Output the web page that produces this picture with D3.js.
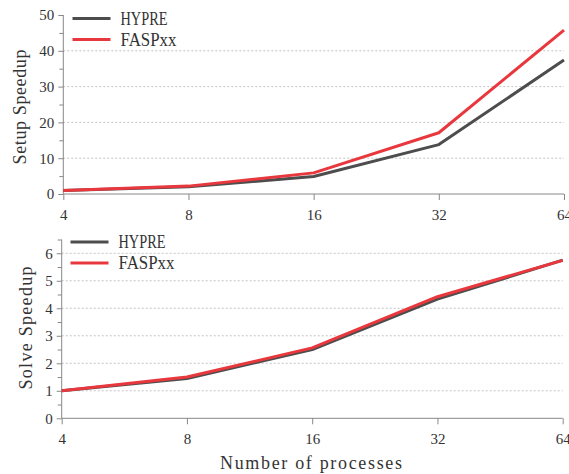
<!DOCTYPE html>
<html><head><meta charset="utf-8">
<script src="https://cdn.jsdelivr.net/npm/d3@7"></script>
<style>
html,body{margin:0;padding:0;background:#fff;}
svg{display:block;}
text{font-family:"Liberation Serif","DejaVu Serif",serif;fill:#333;}
</style></head><body>
<svg id="c" width="569" height="474"></svg>
<script>
const processes = [4, 8, 16, 32, 64];
const setupHypre = [1, 2.0, 4.9, 13.8, 37.4];
const setupFasp = [1, 2.2, 5.9, 17.1, 45.8];
const solveHypre = [1, 1.45, 2.5, 4.33, 5.75];
const solveFasp = [1, 1.5, 2.56, 4.42, 5.74];
const seriesNames = ["HYPRE", "FASPxx"];
const seriesColors = ["#4d4d4d", "#e8383d"];
const setupTicks = [0, 10, 20, 30, 40, 50];
const solveTicks = [0, 1, 2, 3, 4, 5, 6];

const svg = d3.select("#c");

function panel(opts) {
  const g = svg.append("g");
  const x = d3.scaleLog().base(2).domain([4, 64]).range([opts.x0, opts.x1]);
  const y = d3.scaleLinear().domain([0, opts.ymax]).range([opts.y0, opts.y1]);

  // gridlines
  g.append("g").selectAll("line").data(opts.grid).join("line")
    .attr("x1", opts.x0).attr("x2", opts.x1)
    .attr("y1", d => y(d)).attr("y2", d => y(d))
    .attr("stroke", "#c4c4c4").attr("stroke-width", 1)
    .attr("stroke-dasharray", "2,2");

  // y axis with minor ticks
  const ya = g.append("g").attr("transform", `translate(${opts.x0},0)`)
    .call(d3.axisLeft(y).tickValues(opts.minor).tickSize(4).tickFormat(""));
  ya.select(".domain").remove();
  ya.selectAll("line").attr("stroke", "#888");
  const yb = g.append("g").attr("transform", `translate(${opts.x0},0)`)
    .call(d3.axisLeft(y).tickValues(opts.ticks).tickSize(5).tickPadding(4).tickFormat(d3.format("d")));
  yb.select(".domain").attr("stroke", "#888").attr("d", `M0,${opts.y0}V${opts.y1}`);
  yb.selectAll("line").attr("stroke", "#888");
  yb.selectAll("text").style("font-family", '"Liberation Serif",serif').style("font-size", "15px").attr("fill", "#333");

  // x axis
  const xa = g.append("g").attr("transform", `translate(0,${opts.y0})`)
    .call(d3.axisBottom(x).tickValues(processes).tickSize(6).tickPadding(9).tickFormat(d3.format("d")));
  xa.select(".domain").attr("stroke", "#888").attr("d", `M${opts.x0},0H${opts.x1}`);
  xa.selectAll("line").attr("stroke", "#888");
  xa.selectAll("text").style("font-family", '"Liberation Serif",serif').style("font-size", "15px").attr("fill", "#333");

  // lines
  const line = d3.line().x((d, i) => x(processes[i])).y(d => y(d));
  opts.data.forEach((arr, k) => {
    g.append("path").datum(arr).attr("d", line)
      .attr("fill", "none").attr("stroke", seriesColors[k])
      .attr("stroke-width", 3).attr("stroke-linejoin", "round");
  });

  // legend
  seriesNames.forEach((n, k) => {
    const ly = opts.legY + k * 21;
    g.append("line").attr("x1", opts.legX).attr("x2", opts.legX + 38)
      .attr("y1", ly).attr("y2", ly)
      .attr("stroke", seriesColors[k]).attr("stroke-width", 3);
    g.append("text").attr("x", opts.legX + 48).attr("y", ly + 6)
      .style("font-size", "18px")
      .attr("textLength", k === 0 ? 47 : 56).attr("lengthAdjust", "spacingAndGlyphs")
      .text(n);
  });

  // y title
  g.append("text").attr("transform", `translate(${opts.tx},${opts.ty}) rotate(-90)`)
    .attr("text-anchor", "middle").style("font-size", "18px")
    .attr("textLength", opts.tlen).attr("lengthAdjust", "spacing")
    .text(opts.title);
  return {x, y};
}

const minorSetup = d3.range(5, 50, 10);
panel({x0: 63.3, x1: 564, y0: 194, y1: 15, ymax: 50,
  ticks: setupTicks, minor: minorSetup, grid: [10, 20, 30, 40],
  data: [setupHypre, setupFasp], legX: 72.5, legY: 18.5,
  title: "Setup Speedup", tx: 26, ty: 107, tlen: 115});

const minorSolve = d3.range(0.5, 6.6, 1);
panel({x0: 61.7, x1: 562.7, y0: 418.3, y1: 239.5, ymax: 6.5,
  ticks: solveTicks, minor: minorSolve, grid: [1, 2, 3, 4, 5, 6],
  data: [solveHypre, solveFasp], legX: 70.5, legY: 242,
  title: "Solve Speedup", tx: 32, ty: 328, tlen: 123});

svg.append("text").attr("x", 311).attr("y", 469).attr("text-anchor", "middle")
  .style("font-size", "18px").attr("textLength", 182).attr("lengthAdjust", "spacing")
  .text("Number of processes");
</script>
</body></html>
